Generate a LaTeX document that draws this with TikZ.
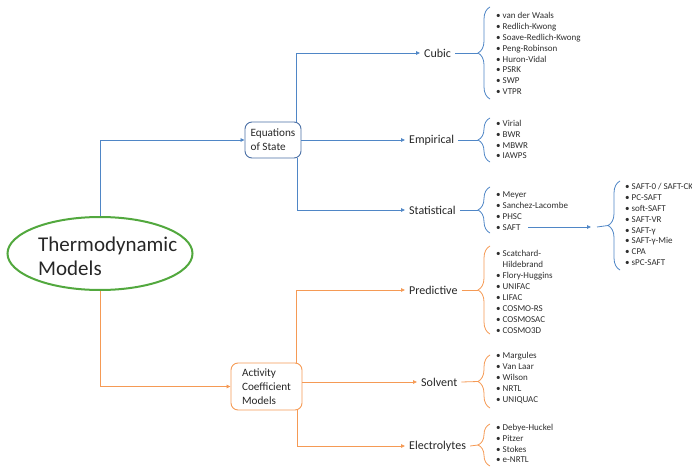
\documentclass[tikz,border=0pt]{standalone}
\usepackage{fontspec}
\setmainfont{Carlito}
\usetikzlibrary{arrows.meta,decorations.pathreplacing,shapes.geometric}
\definecolor{bl}{HTML}{4F86C6}
\definecolor{bledge}{HTML}{4A6FA5}
\definecolor{og}{HTML}{F59A55}
\definecolor{gr}{HTML}{52A83E}
\definecolor{tx}{HTML}{262626}
\definecolor{lt}{HTML}{2E2E2E}
\newcommand{\bul}{\makebox[6.5pt][l]{•}}
\newcommand{\nob}{\hspace*{6.5pt}}
\begin{document}
\begin{tikzpicture}[x=1pt,y=-1pt,
  blueline/.style={draw=bl, line width=0.8pt},
  orangeline/.style={draw=og, line width=0.8pt},
  bluearrow/.style={blueline, -{Triangle[length=4pt,width=3.5pt]}},
  orangearrow/.style={orangeline, -{Triangle[length=4pt,width=3.5pt]}},
  bluebrace/.style={blueline, decorate, decoration={brace, amplitude=12pt}},
  orangebrace/.style={orangeline, decorate, decoration={brace, amplitude=12pt}},
  catlabel/.style={anchor=west, inner xsep=4pt, inner ysep=1pt, text=tx, font=\fontsize{12}{14}\selectfont},
  itemlist/.style={anchor=west, align=left, inner sep=0pt, text=lt, font=\fontsize{9}{10.9}\selectfont},
  groupbox/.style={rounded corners=7pt, line width=0.9pt, align=left, text=tx, inner sep=2pt, font=\fontsize{11.2}{14}\selectfont}
]
\useasboundingbox (0,0) rectangle (692,470);

% root
\node[ellipse, draw=gr, line width=2pt, minimum width=185pt, minimum height=73pt, inner sep=0pt] (thermo) at (100,253.5) {};
\node[anchor=west, align=left, inner sep=0pt, text=tx, font=\fontsize{21}{24}\selectfont] (thermotext) at (38,256) {Thermodynamic\\Models};

% group boxes
\node[groupbox, draw=bledge, minimum width=56pt, minimum height=36pt] (eos) at (273,140) {Equations\\of State};
\node[groupbox, draw=og, minimum width=71pt, minimum height=47pt] (acm) at (266.5,386.5) {Activity\\Coefficient\\Models};

% category labels
\node[catlabel] (cubic) at (420,53) {Cubic};
\node[catlabel] (empirical) at (405,140) {Empirical};
\node[catlabel] (statistical) at (405,210) {Statistical};
\node[catlabel] (predictive) at (405,290) {Predictive};
\node[catlabel] (solvent) at (417,382) {Solvent};
\node[catlabel] (electrolytes) at (405,446) {Electrolytes};

% root connectors
\draw[bluearrow] (thermo.north) |- (eos.west);
\draw[orangearrow] (thermo.south) |- (acm.west);

% EoS connectors
\draw[bluearrow] ([xshift=23pt]eos.north) |- (cubic.west);
\draw[bluearrow] (eos.east) -- (empirical.west);
\draw[bluearrow] ([xshift=24pt]eos.south) |- (statistical.west);

% ACM connectors
\draw[orangearrow] ([xshift=29.5pt]acm.north) |- (predictive.west);
\draw[orangearrow] (acm.east |- solvent.west) -- (solvent.west);
\draw[orangearrow] ([xshift=30.5pt]acm.south) |- (electrolytes.west);

% braces and tips
\coordinate (cubictip) at (478,53);
\draw[bluebrace] (490,99) -- (490,7);
\draw[blueline] (cubic.east) -- (cubictip);
\node[itemlist] (cubiclist) at (496,53.5) {\bul van der Waals\\\bul Redlich-Kwong\\\bul Soave-Redlich-Kwong\\\bul Peng-Robinson\\\bul Huron-Vidal\\\bul PSRK\\\bul SWP\\\bul VTPR};

\coordinate (emptip) at (478,140);
\draw[bluebrace] (490,162) -- (490,118);
\draw[blueline] (empirical.east) -- (emptip);
\node[itemlist] (emplist) at (496,139.5) {\bul Virial\\\bul BWR\\\bul MBWR\\\bul IAWPS};

\coordinate (stattip) at (478,210);
\draw[bluebrace] (490,233) -- (490,187);
\draw[blueline] (statistical.east) -- (stattip);
\node[itemlist] (statlist) at (496,211) {\bul Meyer\\\bul Sanchez-Lacombe\\\bul PHSC\\\bul SAFT};

\coordinate (saftend) at (528,227);
\coordinate (saftarrow) at (591,227);
\coordinate (saftgap) at (597,227);
\coordinate (safttip) at (608,225.5);
\draw[bluearrow] (saftend) -- (saftarrow);
\draw[bluebrace] (620,270) -- (620,181);
\draw[blueline] (saftgap) -- (safttip);
\node[itemlist] (saftlist) at (625,224.5) {\bul SAFT-0 / SAFT-CK\\\bul PC-SAFT\\\bul soft-SAFT\\\bul SAFT-VR\\\bul SAFT-γ\\\bul SAFT-γ-Mie\\\bul CPA\\\bul sPC-SAFT};

\coordinate (predtip) at (478,290);
\draw[orangebrace] (490,334) -- (490,246);
\draw[orangeline] (predictive.east) -- (predtip);
\node[itemlist] (predlist) at (496,292) {\bul Scatchard-\\\nob Hildebrand\\\bul Flory-Huggins\\\bul UNIFAC\\\bul LIFAC\\\bul COSMO-RS\\\bul COSMOSAC\\\bul COSMO3D};

\coordinate (solvtip) at (478,381.5);
\draw[orangebrace] (490,408) -- (490,355);
\draw[orangeline] (solvent.east) -- (solvtip);
\node[itemlist] (solvlist) at (496,378) {\bul Margules\\\bul Van Laar\\\bul Wilson\\\bul NRTL\\\bul UNIQUAC};

\coordinate (electip) at (478,445);
\draw[orangebrace] (490,466) -- (490,424);
\draw[orangeline] (electrolytes.east) -- (electip);
\node[itemlist] (eleclist) at (496,443.5) {\bul Debye-Huckel\\\bul Pitzer\\\bul Stokes\\\bul e-NRTL};
\end{tikzpicture}
\end{document}
